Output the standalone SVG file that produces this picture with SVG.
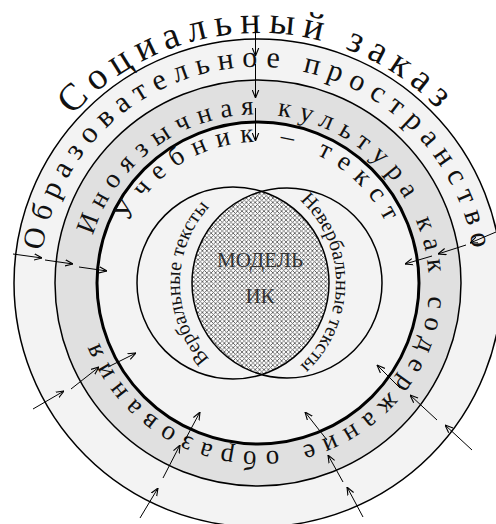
<svg xmlns="http://www.w3.org/2000/svg" width="496" height="524" viewBox="0 0 496 524">
<defs>
<style>
.ring{font-family:"Liberation Serif","Times New Roman",serif;fill:#111}
.c{stroke:#000;stroke-width:1.5}
.arr{stroke:#000;stroke-width:1;fill:none;marker-end:url(#ah)}
.m{font-family:"Liberation Serif","Times New Roman",serif;font-size:21px;fill:#333;text-anchor:middle}
</style>
<marker id="ah" viewBox="0 0 10 10" refX="10" refY="5" markerWidth="8" markerHeight="8" markerUnits="userSpaceOnUse" orient="auto">
<path d="M0,1 L10,5 L0,9" fill="none" stroke="#000" stroke-width="1.4"/>
</marker>
<pattern id="hatch" width="4.4" height="4.4" patternUnits="userSpaceOnUse">
<rect width="4.4" height="4.4" fill="#fff"/>
<path d="M0,0 L4.4,4.4 M4.4,0 L0,4.4" stroke="#5a5a5a" stroke-width="0.85"/>
</pattern>
<path id="pSoc" d="M72.2,115.7 A250,250 0 0 1 443.8,450.3 A250,250 0 0 1 72.2,115.7"/>
<path id="pObr" d="M42.4,250.8 A218,218 0 0 1 473.6,315.2 A218,218 0 0 1 42.4,250.8"/>
<path id="pIno" d="M92.7,235.6 A172,172 0 0 1 423.3,330.4 A172,172 0 0 1 92.7,235.6"/>
<path id="pUch" d="M128.4,222.6 A143,143 0 0 1 387.6,343.4 A143,143 0 0 1 128.4,222.6"/>
<path id="pVerb" d="M213.1,362.9 A113,113 0 0 1 213.1,203.1"/>
<path id="pNeverb" d="M302.9,203.1 A113,113 0 0 1 302.9,362.9"/>
</defs>
<rect width="496" height="524" fill="#fff"/>
<g id="rings">
<circle class="c" cx="258" cy="283" r="244" fill="#f3f3f3"/>
<circle class="c" cx="258" cy="283" r="203" fill="#e0e0e0"/>
<circle cx="258" cy="283" r="161" fill="#f3f3f3" stroke="#000" stroke-width="3"/>
</g>
<g id="social-order">
<text class="ring" font-size="38"><textPath href="#pSoc" textLength="410" lengthAdjust="spacing">Социальный заказ</textPath></text>
</g>
<g id="edu-space">
<text class="ring" font-size="30"><textPath href="#pObr" textLength="614" lengthAdjust="spacing">Образовательное пространство</textPath></text>
</g>
<g id="foreign-culture">
<text class="ring" font-size="27"><textPath href="#pIno" textLength="957" lengthAdjust="spacing">Иноязычная культура как содержание образования</textPath></text>
</g>
<g id="textbook">
<text class="ring" font-size="27"><textPath href="#pUch" textLength="319" lengthAdjust="spacing">Учебник – текст</textPath></text>
</g>
<g id="model">
<path d="M261.8,191.4 A96,96 0 0 1 261.8,374.6 A95,95 0 0 1 261.8,191.4 Z" fill="url(#hatch)"/>
<circle class="c" cx="233" cy="283" r="96" fill="none"/>
<circle class="c" cx="287" cy="283" r="95" fill="none"/>
<text class="m" x="260" y="267">МОДЕЛЬ</text>
<text class="m" x="260" y="303">ИК</text>
</g>
<g id="verbal">
<text class="ring" font-size="20" text-anchor="middle"><textPath href="#pVerb" startOffset="50%">Вербальные тексты</textPath></text>
</g>
<g id="nonverbal">
<text class="ring" font-size="20" text-anchor="middle"><textPath href="#pNeverb" startOffset="50%">Невербальные тексты</textPath></text>
</g>
<g id="connectors">
<line class="arr" x1="255.5" y1="20" x2="255.5" y2="56"/>
<line class="arr" x1="255.5" y1="64" x2="255.5" y2="98"/>
<line class="arr" x1="255.5" y1="108" x2="255.5" y2="141"/>
<line class="arr" x1="13" y1="254" x2="42" y2="258"/>
<line class="arr" x1="45" y1="260" x2="73" y2="264"/>
<line class="arr" x1="79" y1="267" x2="107" y2="271"/>
<line class="arr" x1="496" y1="232" x2="470" y2="243"/>
<line class="arr" x1="466" y1="245" x2="438" y2="254"/>
<line class="arr" x1="432" y1="256" x2="405" y2="264"/>
<line class="arr" x1="33" y1="409" x2="64" y2="391"/>
<line class="arr" x1="71" y1="389" x2="99" y2="367"/>
<line class="arr" x1="108" y1="367" x2="136" y2="353"/>
<line class="arr" x1="140" y1="518" x2="158" y2="488"/>
<line class="arr" x1="163" y1="478" x2="180" y2="445"/>
<line class="arr" x1="185" y1="440" x2="200" y2="412"/>
<line class="arr" x1="363" y1="517" x2="347" y2="487"/>
<line class="arr" x1="343" y1="482" x2="328" y2="455"/>
<line class="arr" x1="327" y1="440" x2="305" y2="412"/>
<line class="arr" x1="472" y1="450" x2="445" y2="425"/>
<line class="arr" x1="437" y1="420" x2="410" y2="395"/>
<line class="arr" x1="400" y1="388" x2="377" y2="365"/>
</g>
</svg>
